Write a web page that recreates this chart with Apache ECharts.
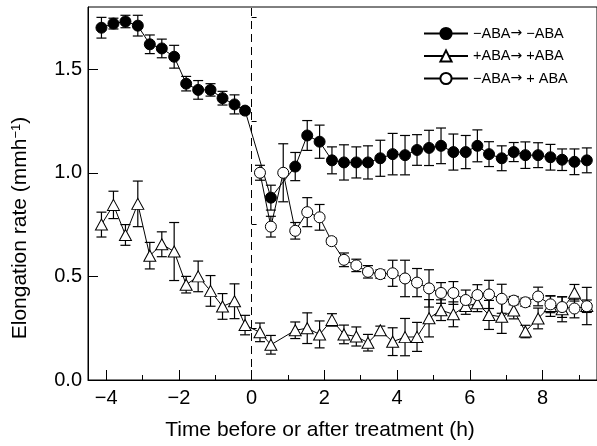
<!DOCTYPE html>
<html>
<head>
<meta charset="utf-8">
<script src="https://cdn.jsdelivr.net/npm/echarts@6/dist/echarts.min.js"></script>
<style>
  html, body { margin: 0; padding: 0; background: #fff; }
  #chart { width: 597px; height: 446px; }
</style>
</head>
<body>
<div id="chart"></div>
<script>
const FONT = '"Liberation Sans", Arial, Helvetica, sans-serif';

// −ABA → −ABA (control, filled circles): time (h), rate (mm h⁻¹), s.e.
const timeCtrl = [-4.13, -3.8, -3.47, -3.13, -2.8, -2.47, -2.13, -1.8, -1.47, -1.13, -0.8, -0.47, -0.18,
  0.53, 1.2, 1.53, 1.87, 2.21, 2.54, 2.88, 3.2, 3.54, 3.88, 4.22, 4.55, 4.88, 5.21, 5.55, 5.89,
  6.21, 6.53, 6.88, 7.21, 7.53, 7.88, 8.22, 8.54, 8.88, 9.22];
const rateCtrl = [1.70, 1.72, 1.73, 1.71, 1.62, 1.60, 1.56, 1.43, 1.40, 1.40, 1.36, 1.33, 1.30,
  0.88, 1.03, 1.18, 1.15, 1.06, 1.05, 1.05, 1.05, 1.07, 1.09, 1.085, 1.11, 1.12, 1.13, 1.10, 1.10,
  1.13, 1.09, 1.07, 1.10, 1.085, 1.085, 1.075, 1.063, 1.053, 1.06];
const semCtrl = [0.05, 0.026, 0.03, 0.05, 0.045, 0.045, 0.055, 0.035, 0.045, 0.03, 0.033, 0.046, 0.015,
  0.06, 0.068, 0.072, 0.08, 0.065, 0.085, 0.075, 0.08, 0.087, 0.1, 0.095, 0.074, 0.085, 0.086, 0.087, 0.08,
  0.077, 0.06, 0.06, 0.046, 0.064, 0.06, 0.062, 0.052, 0.062, 0.06];

// +ABA → +ABA (open triangles)
const timeAba = [-4.13, -3.8, -3.47, -3.13, -2.8, -2.47, -2.13, -1.8, -1.47, -1.13, -0.8, -0.47, -0.18,
  0.23, 0.53, 1.2, 1.53, 1.87, 2.21, 2.54, 2.88, 3.2, 3.54, 3.88, 4.22, 4.55, 4.88, 5.21, 5.55, 5.89,
  6.21, 6.53, 6.88, 7.21, 7.53, 7.88, 8.22, 8.54, 8.88, 9.22];
const rateAba = [0.75, 0.845, 0.70, 0.85, 0.60, 0.655, 0.62, 0.46, 0.50, 0.43, 0.355, 0.38, 0.265,
  0.23, 0.17, 0.24, 0.25, 0.22, 0.29, 0.22, 0.21, 0.18, 0.24, 0.185, 0.207, 0.208, 0.298, 0.337, 0.317, 0.357,
  0.37, 0.314, 0.305, 0.335, 0.234, 0.297, 0.357, 0.341, 0.421, 0.357];
const semAba = [0.06, 0.066, 0.05, 0.11, 0.064, 0.06, 0.14, 0.04, 0.074, 0.074, 0.062, 0.084, 0.047,
  0.045, 0.045, 0.04, 0.074, 0.065, 0.03, 0.045, 0.046, 0.04, 0.02, 0.067, 0.09, 0.07, 0.09, 0.05, 0.06, 0.04,
  0.04, 0.07, 0.08, 0.04, 0.03, 0.05, 0.05, 0.06, 0.04, 0.09];

// −ABA → +ABA (open circles, transferred at t = 0)
const timeSwitch = [0.23, 0.53, 0.87, 1.2, 1.53, 1.87, 2.2, 2.54, 2.88, 3.2, 3.54, 3.88, 4.22, 4.55,
  4.88, 5.21, 5.55, 5.89, 6.21, 6.53, 6.88, 7.21, 7.53, 7.88, 8.22, 8.54, 8.88, 9.22];
const rateSwitch = [1.0, 0.74, 1.0, 0.72, 0.81, 0.785, 0.67, 0.58, 0.553, 0.522, 0.511, 0.515, 0.49, 0.47,
  0.442, 0.42, 0.42, 0.386, 0.41, 0.413, 0.392, 0.383, 0.375, 0.403, 0.365, 0.352, 0.345, 0.356];
const semSwitch = [0.036, 0.05, 0.14, 0.04, 0.07, 0.062, 0.015, 0.033, 0.03, 0.03, 0.02, 0.063, 0.088, 0.068,
  0.09, 0.05, 0.055, 0.048, 0.05, 0.068, 0.07, 0.02, 0.02, 0.045, 0.04, 0.05, 0.045, 0.03];

const seriesNames = ['−ABA→ −ABA', '+ABA→ +ABA', '−ABA→ + ABA'];

const xTicks = [-4, -2, 0, 2, 4, 6, 8];
const xMinorTicks = [-3, -1, 1, 3, 5, 7, 9];
const yTicks = [0, 0.5, 1.0, 1.5];
const yMinorTicks = [0.25, 0.75, 1.25, 1.75];

const xTitle = 'Time before or after treatment (h)';

function zip(xs, ys) { return xs.map((x, i) => [x, ys[i]]); }
function zip3(xs, ys, es) { return xs.map((x, i) => [x, ys[i], es[i]]); }

// Vertical error bar with caps, mapped through the axes
function renderErrorBar(params, api) {
  const t = api.value(0), v = api.value(1), e = api.value(2);
  const hi = api.coord([t, v + e]);
  const lo = api.coord([t, v - e]);
  const w = 5;
  const style = { stroke: '#000', lineWidth: 1.2 };
  return {
    type: 'group',
    children: [
      { type: 'line', shape: { x1: hi[0], y1: hi[1], x2: lo[0], y2: lo[1] }, style },
      { type: 'line', shape: { x1: hi[0] - w, y1: hi[1], x2: hi[0] + w, y2: hi[1] }, style },
      { type: 'line', shape: { x1: lo[0] - w, y1: lo[1], x2: lo[0] + w, y2: lo[1] }, style }
    ]
  };
}

function errorSeries(data) {
  return {
    type: 'custom',
    renderItem: renderErrorBar,
    data: data,
    encode: { x: 0, y: 1 },
    z: 2,
    silent: true
  };
}

const minusFmt = v => (v < 0 ? '−' + Math.abs(v) : String(v));

const chart = echarts.init(document.getElementById('chart'));
chart.setOption({
  animation: false,
  backgroundColor: '#fff',
  grid: {
    left: 88, right: -2, top: 7, bottom: 66,
    show: true, borderColor: '#000', borderWidth: 1, backgroundColor: 'transparent'
  },
  legend: {
    orient: 'vertical',
    left: 423,
    top: 26,
    padding: 0,
    itemWidth: 44,
    itemHeight: 14,
    itemGap: 7.5,
    itemTextGap: 5,
    selectedMode: false,
    data: seriesNames,
    formatter: name => name.replace('→', '{arr|→}'),
    textStyle: {
      fontFamily: FONT, fontSize: 14.5, color: '#000', lineHeight: 14,
      rich: { arr: { fontFamily: '"DejaVu Sans"', fontSize: 14, color: '#000', lineHeight: 14 } }
    }
  },
  xAxis: [
    {
      type: 'value', min: -4.5, max: 9.5, position: 'bottom',
      axisLine: { show: true, onZero: false, lineStyle: { color: '#000', width: 1 } },
      axisTick: { show: true, inside: true, length: 10, customValues: xTicks, lineStyle: { color: '#000', width: 1 } },
      axisLabel: { customValues: xTicks, formatter: minusFmt, fontFamily: FONT, fontSize: 20, color: '#000', margin: 8 },
      splitLine: { show: false }
    },
    {
      type: 'value', min: -4.5, max: 9.5, position: 'bottom',
      axisLine: { show: false },
      axisTick: { show: true, inside: true, length: 5, customValues: xMinorTicks, lineStyle: { color: '#000', width: 1 } },
      axisLabel: { show: false },
      splitLine: { show: false }
    }
  ],
  yAxis: [
    {
      type: 'value', min: 0, max: 1.8, position: 'left',
      axisLine: { show: true, onZero: false, lineStyle: { color: '#000', width: 1 } },
      axisTick: { show: true, inside: true, length: 10, customValues: yTicks, lineStyle: { color: '#000', width: 1 } },
      axisLabel: { customValues: yTicks, formatter: v => v.toFixed(1), fontFamily: FONT, fontSize: 20, color: '#000', margin: 6 },
      splitLine: { show: false }
    },
    {
      type: 'value', min: 0, max: 1.8, position: 'left',
      axisLine: { show: false },
      axisTick: { show: true, inside: true, length: 5, customValues: yMinorTicks, lineStyle: { color: '#000', width: 1 } },
      axisLabel: { show: false },
      splitLine: { show: false }
    }
  ],
  graphic: [
    {
      type: 'text', x: 20, y: 228, rotation: Math.PI / 2, silent: true,
      style: {
        text: 'Elongation rate (mmh{sup|−1})',
        fontFamily: FONT, fontSize: 21, fill: '#000',
        align: 'center', verticalAlign: 'middle',
        rich: { sup: { fontFamily: FONT, fontSize: 13, verticalAlign: 'top', fill: '#000' } }
      }
    },
    {
      type: 'text', x: 320, y: 430, silent: true,
      style: { text: xTitle, fontFamily: FONT, fontSize: 21, fill: '#000', align: 'center', verticalAlign: 'middle' }
    }
  ],
  series: [
    errorSeries(zip3(timeCtrl, rateCtrl, semCtrl)),
    errorSeries(zip3(timeAba, rateAba, semAba)),
    errorSeries(zip3(timeSwitch, rateSwitch, semSwitch)),
    {
      name: seriesNames[0], type: 'line', data: zip(timeCtrl, rateCtrl), z: 3,
      symbol: 'circle', symbolSize: 11,
      itemStyle: { color: '#000', borderColor: '#000', borderWidth: 1 },
      lineStyle: { color: '#000', width: 1 },
      markLine: {
        silent: true, symbol: ['none', 'none'], label: { show: false },
        lineStyle: { color: '#000', type: [8, 5], width: 1 },
        data: [{ xAxis: 0 }]
      }
    },
    {
      name: seriesNames[1], type: 'line', data: zip(timeAba, rateAba), z: 4,
      symbol: 'triangle', symbolSize: [12, 11],
      itemStyle: { color: '#fff', borderColor: '#000', borderWidth: 1 },
      lineStyle: { color: '#000', width: 1 }
    },
    {
      name: seriesNames[2], type: 'line', data: zip(timeSwitch, rateSwitch), z: 5,
      symbol: 'circle', symbolSize: 11,
      itemStyle: { color: '#fff', borderColor: '#000', borderWidth: 1 },
      lineStyle: { color: '#000', width: 1 }
    }
  ]
});
</script>
</body>
</html>
